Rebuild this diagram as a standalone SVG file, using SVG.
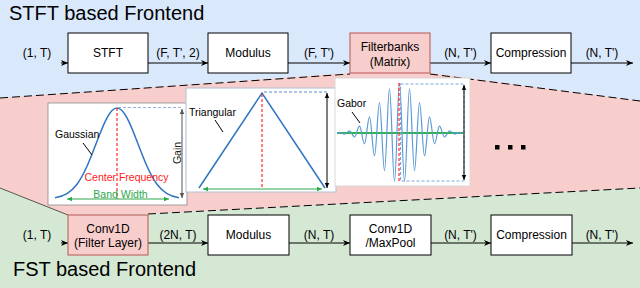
<svg xmlns="http://www.w3.org/2000/svg" width="640" height="288" viewBox="0 0 640 288">
<style>
.box{fill:#fff;stroke:#000;stroke-width:1}
.pbox{fill:#f8cecc;stroke:#b85450;stroke-width:1}
.t{font-family:"Liberation Sans",Arial,sans-serif;font-size:12px;fill:#000;text-anchor:middle}
.title{font-family:"Liberation Sans",Arial,sans-serif;font-size:20px;fill:#000}
.e{stroke:#000;stroke-width:1;fill:none;marker-end:url(#ah)}
.bd{stroke:#000;stroke-width:1;fill:none;stroke-dasharray:8 4}
.pt{font-family:"Liberation Sans",Arial,sans-serif;font-size:10.5px}
</style>
<defs>
<marker id="ah" markerWidth="8" markerHeight="8" refX="7" refY="4" orient="auto" markerUnits="userSpaceOnUse"><path d="M0,1 L7,4 L0,7 L2,4 Z" fill="#000"/></marker>
<marker id="sk" markerWidth="6" markerHeight="6" refX="5" refY="3" orient="auto-start-reverse" markerUnits="userSpaceOnUse"><path d="M0,0.8 L5,3 L0,5.2 Z" fill="#000"/></marker>
<marker id="sg" markerWidth="6" markerHeight="6" refX="5" refY="3" orient="auto-start-reverse" markerUnits="userSpaceOnUse"><path d="M0,0.8 L5,3 L0,5.2 Z" fill="#555"/></marker>
<marker id="sn" markerWidth="6" markerHeight="6" refX="5" refY="3" orient="auto-start-reverse" markerUnits="userSpaceOnUse"><path d="M0,0.8 L5,3 L0,5.2 Z" fill="#2ca84a"/></marker>
</defs>

<g id="background">
<rect x="0" y="0" width="640" height="288" fill="#dae8fc"/>
<polygon points="0,98 350,73 430,73 640,101 640,188 148,214 68,215 0,188" fill="#f8cecc"/>
<polygon points="0,188 68,215 148,214 640,188 640,288 0,288" fill="#d5e8d4"/>
<path class="bd" d="M0,98 L350,74"/>
<path class="bd" d="M430,74 L640,101"/>
<path class="bd" d="M148,214 L640,188"/>
<path d="M0,188 L68,215" stroke="#333" stroke-width="0.8" fill="none"/>
</g>

<text class="title" x="9" y="20">STFT based Frontend</text>
<text class="title" x="13" y="276">FST based Frontend</text>

<g id="panel-gaussian">
<rect x="48" y="103" width="139" height="102" fill="#fff" stroke="#8a8a8a" stroke-width="0.8"/>
<path d="M55,197.8 C59,197.12 63,196.03 67,193.6 C70.33,191.58 73.67,188.67 77,184.2 C80.33,179.73 83.67,173.64 87,166.2 C90.33,158.76 93.67,149.94 97,141.2 C100.33,132.46 103.67,123.94 107,117.8 C110.33,111.66 113.67,108 117,108 C120.33,108 123.67,111.66 127,117.8 C130.33,123.94 133.67,132.46 137,141.2 C140.33,149.94 143.67,158.76 147,166.2 C150.33,173.64 153.67,179.73 157,184.2 C160.33,188.67 163.67,191.58 167,193.6 C171,196.03 175,197.12 179,197.8" fill="none" stroke="#2f75c0" stroke-width="1.5"/>
<line x1="117" y1="108" x2="117" y2="199" stroke="#ff2a2a" stroke-width="1.2" stroke-dasharray="3 2"/>
<line x1="118" y1="107.5" x2="182" y2="107.5" stroke="#8fb4e0" stroke-width="1" stroke-dasharray="3 2"/>
<line x1="182" y1="109" x2="182" y2="198" stroke="#555" stroke-width="1" marker-start="url(#sg)" marker-end="url(#sg)"/>
<line x1="67" y1="199" x2="169" y2="199" stroke="#2ca84a" stroke-width="1" marker-start="url(#sn)" marker-end="url(#sn)"/>
<text class="pt" x="55" y="137.5" fill="#000">Gaussian</text>
<line x1="83" y1="143" x2="92" y2="155" stroke="#000" stroke-width="1"/>
<text class="pt" x="177" y="153" fill="#222" text-anchor="middle" transform="rotate(-90 177 153)" dy="3.5">Gain</text>
<text class="pt" x="126.5" y="181" fill="#ff1a1a" text-anchor="middle">Center Frequency</text>
<text class="pt" x="120.5" y="198" fill="#2ca84a" text-anchor="middle">Band Width</text>
</g>

<g id="panel-triangular">
<rect x="186" y="88" width="150" height="104" fill="#fff" stroke="#aebfd3" stroke-width="1"/>
<path d="M199,188 L262,93 L325,188" fill="none" stroke="#2f75c0" stroke-width="1.5"/>
<line x1="262" y1="94" x2="262" y2="188" stroke="#ff2a2a" stroke-width="1.2" stroke-dasharray="3 2"/>
<line x1="264" y1="92" x2="327" y2="92" stroke="#5b8fd0" stroke-width="1" stroke-dasharray="3 2"/>
<line x1="327" y1="93" x2="327" y2="188" stroke="#000" stroke-width="1" marker-start="url(#sk)" marker-end="url(#sk)"/>
<line x1="203" y1="189" x2="322" y2="189" stroke="#2ca84a" stroke-width="1.2" marker-start="url(#sn)" marker-end="url(#sn)"/>
<text class="pt" x="189" y="116" fill="#000">Triangular</text>
<line x1="215" y1="120" x2="223" y2="132" stroke="#000" stroke-width="1"/>
</g>

<g id="panel-gabor">
<rect x="335" y="78" width="135" height="108" fill="#fff" stroke="#d8d8d8" stroke-width="1"/>
<line x1="337" y1="133" x2="463" y2="133" stroke="#2db34a" stroke-width="2"/>
<path d="M337,133 L339.5,132.4 C341.3,132.4 342.7,134.1 344.5,134.1 S347.7,130.8 349.5,130.8 S352.7,137 354.5,137 S357.7,126.2 359.5,126.2 S362.7,143.8 364.5,143.8 S367.7,116.8 369.5,116.8 S372.7,155.9 374.5,155.9 S377.7,102.7 379.5,102.7 S382.7,170.7 384.5,170.7 S387.7,88.9 389.5,88.9 S392.7,181.5 394.5,181.5 S397.7,83 399.5,83 S402.7,181.5 404.5,181.5 S407.7,88.9 409.5,88.9 S412.7,170.7 414.5,170.7 S417.7,102.7 419.5,102.7 S422.7,155.9 424.5,155.9 S427.7,116.8 429.5,116.8 S432.7,143.8 434.5,143.8 S437.7,126.2 439.5,126.2 S442.7,137 444.5,137 S447.7,130.8 449.5,130.8 S452.7,134.1 454.5,134.1 S457.7,132.4 459.5,132.4 L462,133" fill="none" stroke="#5b9bd5" stroke-width="1.2"/>
<rect x="400.5" y="84" width="63.5" height="97" fill="none" stroke="#7aa6dc" stroke-width="1.2" stroke-dasharray="3 2"/>
<line x1="399" y1="83" x2="399" y2="181" stroke="#ff2a2a" stroke-width="1.2" stroke-dasharray="3 2"/>
<line x1="464" y1="85" x2="464" y2="180" stroke="#000" stroke-width="1" marker-start="url(#sk)" marker-end="url(#sk)"/>
<text class="pt" x="337" y="107" fill="#000">Gabor</text>
<line x1="352" y1="112" x2="360" y2="123" stroke="#000" stroke-width="1"/>
</g>

<g id="ellipsis" fill="#000">
<rect x="495" y="145" width="4.5" height="4.5"/>
<rect x="508" y="145" width="4.5" height="4.5"/>
<rect x="521" y="145" width="4.5" height="4.5"/>
</g>

<g id="connectors">
<path class="e" d="M61,63 L68,63"/>
<path class="e" d="M148,63 L208,63"/>
<path class="e" d="M288,63 L350,63"/>
<path class="e" d="M430,63 L491,63"/>
<path class="e" d="M571,63 L633,63"/>
<path class="e" d="M61,243 L68,243"/>
<path class="e" d="M148,243 L208,243"/>
<path class="e" d="M289,243 L350,243"/>
<path class="e" d="M431,243 L491,243"/>
<path class="e" d="M572,243 L633,243"/>
<text class="t" x="37" y="57">(1, T)</text>
<text class="t" x="178" y="57">(F, T', 2)</text>
<text class="t" x="319" y="57">(F, T')</text>
<text class="t" x="460.5" y="57">(N, T')</text>
<text class="t" x="602" y="57">(N, T')</text>
<text class="t" x="37" y="239">(1, T)</text>
<text class="t" x="178" y="239">(2N, T)</text>
<text class="t" x="319" y="239">(N, T)</text>
<text class="t" x="460.5" y="239">(N, T')</text>
<text class="t" x="602" y="239">(N, T')</text>
</g>

<g id="stft"><rect class="box" x="68" y="33" width="80" height="40"/><text class="t" x="108" y="57">STFT</text></g>
<g id="modulus-top"><rect class="box" x="208" y="33" width="80" height="40"/><text class="t" x="248" y="57">Modulus</text></g>
<g id="filterbanks"><rect class="pbox" x="350" y="33" width="80" height="40"/><text class="t" x="390" y="51">Filterbanks</text><text class="t" x="390" y="66">(Matrix)</text></g>
<g id="compression-top"><rect class="box" x="491" y="33" width="80" height="40"/><text class="t" x="531" y="57">Compression</text></g>

<g id="conv1d-filter"><rect class="pbox" x="68" y="215" width="80" height="40"/><text class="t" x="108" y="232.5">Conv1D</text><text class="t" x="108" y="247">(Filter Layer)</text></g>
<g id="modulus-bottom"><rect class="box" x="208" y="215" width="81" height="40"/><text class="t" x="248.5" y="239">Modulus</text></g>
<g id="conv1d-maxpool"><rect class="box" x="350" y="215" width="81" height="40"/><text class="t" x="390.5" y="232.5">Conv1D</text><text class="t" x="390.5" y="247">/MaxPool</text></g>
<g id="compression-bottom"><rect class="box" x="491" y="215" width="81" height="40"/><text class="t" x="531.5" y="239">Compression</text></g>
</svg>
